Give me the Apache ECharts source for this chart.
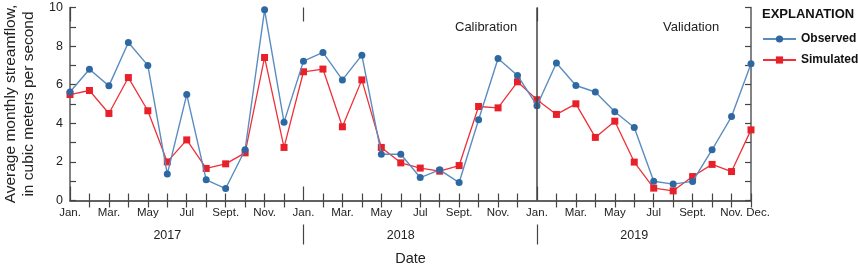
<!DOCTYPE html>
<html><head><meta charset="utf-8">
<script src="https://cdn.jsdelivr.net/npm/echarts@6/dist/echarts.min.js"></script>
<style>html,body{margin:0;padding:0;background:#fff}#c{width:858px;height:270px}</style>
</head><body><div id="c"></div>
<script>
var months = [];
var monthNames = ['Jan.','Feb.','Mar.','Apr.','May','Jun.','Jul','Aug.','Sept.','Oct.','Nov.','Dec.'];
var years = ['2017','2018','2019'];
years.forEach(function(y){ monthNames.forEach(function(m){ months.push(m + ' ' + y); }); });
var monthLabels = ['Jan.','','Mar.','','May','','Jul','','Sept.','','Nov.',''];
var observed = [5.62,6.8,5.94,8.19,7.0,1.37,5.49,1.07,0.62,2.63,9.88,4.06,
                7.22,7.67,6.25,7.53,2.4,2.4,1.19,1.59,0.93,4.18,7.36,6.48,
                4.91,7.12,5.96,5.62,4.6,3.78,1.0,0.85,0.99,2.63,4.35,7.08];
var simulated = [5.49,5.7,4.51,6.37,4.65,2.0,3.14,1.66,1.9,2.47,7.41,2.75,
                 6.67,6.81,3.82,6.25,2.75,1.95,1.68,1.52,1.81,4.87,4.8,6.15,
                 5.22,4.46,5.01,3.27,4.11,1.99,0.64,0.5,1.24,1.87,1.5,3.66];
var yTicks = [0,2,4,6,8,10];

var FONT = "'Liberation Sans Narrow','Arial Narrow','Liberation Sans',sans-serif";
var AX = '#5a5a5a';
var chart = echarts.init(document.getElementById('c'), null, {renderer:'canvas'});
function isJan(i){ return i % 12 === 0; }
function baseX(extra){
  return Object.assign({
    type:'category', data: months, boundaryGap:false,
    axisLine:{show:false}, axisLabel:{show:false}, splitLine:{show:false},
    axisTick:{show:false}
  }, extra);
}
var option = {
  animation:false,
  title:{text:'EXPLANATION', left:762, top:8, padding:0,
    textStyle:{fontFamily:FONT, fontWeight:'bold', fontSize:13, color:'#111'}},
  legend:{orient:'vertical', left:762, top:31, padding:0, itemWidth:33, itemHeight:9, itemGap:5,
    textStyle:{fontFamily:FONT, fontWeight:'bold', fontSize:12, lineHeight:16, color:'#111'},
    data:['Observed','Simulated']},
  grid:{left:70, right:107, top:7.5, bottom:69.5, show:false, outerBoundsMode:'none', containLabel:false},
  xAxis:[
    baseX({position:'bottom', name:'Date', nameLocation:'middle', nameGap:51,
      nameTextStyle:{fontFamily:FONT, fontSize:14.5, color:'#222'},
      axisLine:{show:true, lineStyle:{color:AX, width:1.5}},
      axisTick:{show:true, inside:true, length:7, lineStyle:{color:'#444', width:1.2},
        interval:function(i){ return !isJan(i); }},
      axisLabel:{show:true, interval:0, margin:6, fontFamily:FONT, fontSize:11.5, color:'#222',
        formatter:function(v,i){ if(i===35) return '{d|Dec.}'; return monthLabels[i%12]; },
        rich:{d:{fontFamily:FONT, fontSize:11.5, color:'#222', padding:[0,0,0,14]}}}}),
    baseX({position:'top',
      axisLine:{show:true, lineStyle:{color:AX, width:1.5}},
      axisTick:{show:true, inside:true, length:7, lineStyle:{color:'#444', width:1.2},
        interval:function(i){ return !isJan(i); }}}),
    baseX({position:'bottom',
      axisTick:{show:true, inside:true, length:14, lineStyle:{color:'#444', width:1.2},
        interval:function(i){ return isJan(i); }}}),
    baseX({position:'top',
      axisTick:{show:true, inside:true, length:14, lineStyle:{color:'#444', width:1.2},
        interval:function(i){ return isJan(i); }}}),
    baseX({position:'bottom', offset:24,
      axisTick:{show:true, inside:false, length:20, lineStyle:{color:'#444', width:1.2},
        interval:function(i){ return i===12 || i===24; }},
      axisLabel:{show:true, interval:0, margin:5, fontFamily:FONT, fontSize:12.5, color:'#222',
        formatter:function(v,i){ if(i===5) return '2017'; if(i===17) return '2018'; if(i===29) return '2019'; return ''; }}})
  ],
  yAxis:[
    {type:'value', min:0, max:10, interval:1, position:'left',
      name:'Average monthly streamflow,\nin cubic meters per second', nameLocation:'middle', nameGap:31,
      nameTextStyle:{fontFamily:FONT, fontSize:15.5, color:'#222', lineHeight:18},
      axisLine:{show:true, lineStyle:{color:AX, width:1.5}},
      axisTick:{show:true, inside:true, length:6, lineStyle:{color:'#444', width:1.2}},
      axisLabel:{fontFamily:FONT, fontSize:12.5, color:'#222', margin:7,
        formatter:function(v){ return yTicks.indexOf(v)>=0 ? String(v) : ''; }},
      splitLine:{show:false}},
    {type:'value', min:0, max:10, interval:1, position:'right',
      axisLine:{show:true, lineStyle:{color:AX, width:1.5}},
      axisTick:{show:true, inside:true, length:6, lineStyle:{color:'#444', width:1.2}},
      axisLabel:{show:false}, splitLine:{show:false}}
  ],
  series:[
    {name:'Observed', type:'line', data:observed, symbol:'circle', symbolSize:7,
      lineStyle:{color:'#5b8cc0', width:1.4}, itemStyle:{color:'#2e68a3'},
      z:3,
      markLine:{silent:true, symbol:'none', label:{show:false},
        lineStyle:{color:'#444', width:1.5, type:'solid'},
        data:[{xAxis:'Jan. 2019'}]}},
    {name:'Simulated', type:'line', data:simulated, symbol:'rect', symbolSize:7,
      lineStyle:{color:'#ef3038', width:1.3}, itemStyle:{color:'#e8202a'}, z:2}
  ],
  graphic:[
    {type:'text', left:455, top:21, style:{text:'Calibration', fontFamily:FONT, fontSize:13, fill:'#222'}},
    {type:'text', left:663, top:21, style:{text:'Validation', fontFamily:FONT, fontSize:13, fill:'#222'}}
  ]
};
chart.setOption(option);
</script></body></html>
